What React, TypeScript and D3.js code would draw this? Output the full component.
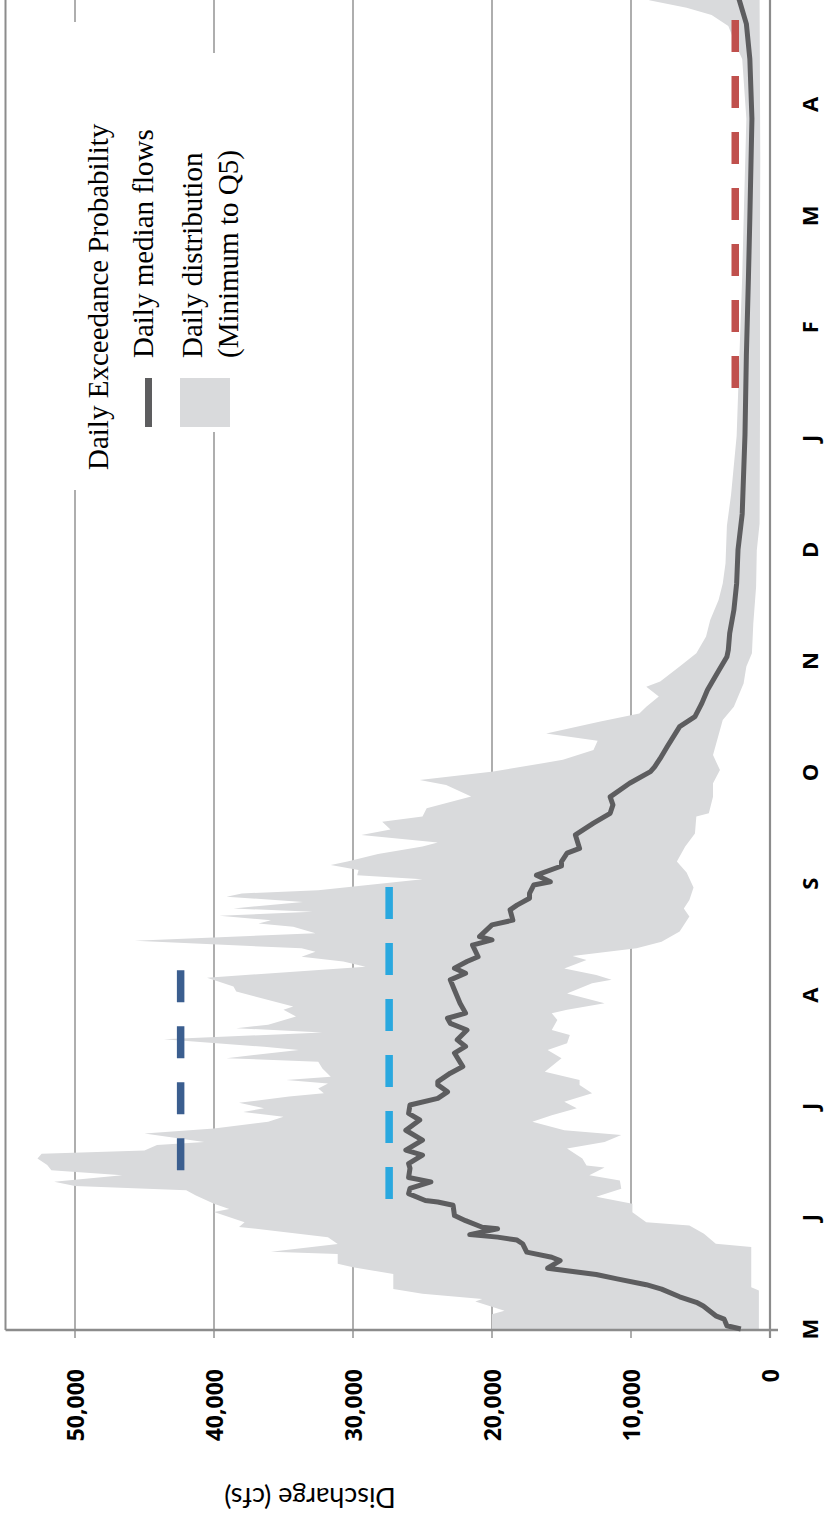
import React from 'react';
import * as d3 from 'd3';

// ---------- data (day index from May 1, discharge cfs) ----------
const monthLabels = ['M', 'J', 'J', 'A', 'S', 'O', 'N', 'D', 'J', 'F', 'M', 'A'];
const yTicks = [0, 10000, 20000, 30000, 40000, 50000];

const q5Upper: [number, number][] = [
  [0, 20000], [4, 20000], [5, 19100], [7.5, 21200], [8.2, 20700], [9.6, 25000], [10.9, 27100],
  [15, 27100], [16.9, 30000], [17.8, 31100], [20.5, 31100], [21.1, 35900], [23.2, 31100],
  [25.1, 31800], [27.9, 38200], [29.2, 37800], [32, 40000], [32.8, 38900], [34.2, 40000],
  [36.5, 41300], [37.9, 42000], [39.1, 50000], [40.2, 51500], [42, 46600], [43.4, 51700],
  [44.8, 52000], [46.6, 52700], [47.9, 52400], [48.8, 45000], [50.3, 44100], [51.1, 40700],
  [53.4, 45000], [54.8, 40000], [56.6, 36100], [58, 35000], [59.3, 37900], [60.3, 36400],
  [61.8, 38200], [63.5, 34600], [64.4, 32100], [65.7, 32500], [67.1, 31800], [68, 34800],
  [68.9, 31600], [71.2, 32200], [73, 32500], [74, 39100], [76.2, 33900], [77.1, 36400],
  [79.2, 43600], [81, 32200], [82.2, 38400], [83.1, 36100], [85.4, 34100], [87.2, 35000],
  [88.1, 34300], [92.2, 38400], [93.6, 38600], [96, 40500], [99, 29100], [100.4, 30700],
  [101.7, 33700], [103.1, 32700], [104, 33700], [106.1, 45700], [108.1, 32700], [109.9, 34300],
  [110.8, 36800], [111.7, 35900], [112.9, 39600], [114, 32900], [114.9, 38600], [116.7, 33600],
  [118.1, 39100], [119, 38000], [119.9, 32500], [122.9, 25000], [124, 29700], [125.4, 29600],
  [126.8, 31600], [127.7, 30400], [129.8, 28200], [131.8, 25000], [132.9, 23900], [135, 29400],
  [136.5, 27300], [138.6, 27900], [140, 25000], [142.3, 24700], [145.5, 21500], [148.6, 23300],
  [150, 25200], [152.3, 19900], [155.5, 14900], [158.2, 12700], [160.7, 12400], [162.7, 16100],
  [166, 12200], [168.2, 9400], [170, 8900], [172.8, 8000], [175.5, 8900], [176.9, 7900],
  [181, 6500], [184.6, 5300], [189.2, 4600], [193.7, 4300], [199.2, 3700], [203.7, 3400],
  [209.2, 3200], [219.5, 3100], [228, 2800], [244, 2400], [266, 2200], [287.5, 2000],
  [302.6, 1900], [330.7, 1700], [347, 2000], [351.2, 2500], [356, 3000], [359, 4200],
  [361, 6000], [363, 8600], [365, 11000],
];

const minLower: [number, number][] = [
  [0, 800], [10.5, 800], [11.4, 1350], [22.4, 1350], [23.3, 3900], [26, 4750], [28.3, 5800],
  [29.2, 8900], [31.9, 9900], [34.2, 9900], [36.1, 12500], [38.3, 10700], [40.6, 10800],
  [42, 13000], [44.1, 11900], [44.7, 13200], [46.6, 13500], [49.3, 14600], [51.1, 11900],
  [53, 10700], [54.3, 14800], [56.6, 17100], [58.4, 15700], [60.3, 13900], [62.1, 14800],
  [64.4, 12800], [66.7, 13700], [68, 13700], [70.3, 16200], [74, 15000], [76.2, 16000],
  [78.1, 14600], [80.3, 14400], [81.7, 15700], [84.4, 15300], [86.3, 15700], [87.2, 14600],
  [89, 11900], [91.7, 14600], [94.5, 12800], [95.4, 11400], [96.7, 12500], [98.5, 14800],
  [100.8, 13200], [101.9, 14200], [104, 9600], [105.8, 7800], [108.6, 6500], [112.7, 5800],
  [114.9, 6200], [117.2, 5800], [120.6, 5500], [124.7, 6000], [127.7, 6700], [131.8, 6100],
  [135.4, 5400], [140, 5300], [140.9, 4400], [145.4, 4100], [149.1, 4100], [152.7, 3600],
  [156.8, 4100], [166.4, 3400], [170, 2600], [176.4, 1900], [181, 1700], [184.6, 1300],
  [192.8, 1200], [202.8, 1000], [212.8, 950], [220, 750], [250, 720], [300, 720], [320, 700],
  [365, 750],
];

const medianFlow: [number, number][] = [
  [0, 2100], [0.9, 3100], [2.7, 3300], [3.6, 3900], [6.3, 4800], [7.3, 5300], [8.8, 6500],
  [10.9, 7800], [12.1, 8900], [13.7, 11000], [14.9, 12500], [16.6, 16000], [18.7, 15100],
  [19.6, 15700], [21, 17500], [23.3, 17800], [24.3, 18200], [25.1, 19600], [25.8, 21600],
  [27.4, 19600], [27.8, 20700], [29.6, 21900], [31, 22700], [33.8, 22800], [34.7, 23900],
  [35.1, 24800], [37, 26000], [38.4, 25900], [40.2, 24400], [41.4, 26000], [43.9, 25900],
  [45.2, 26000], [47.5, 25000], [48.9, 26200], [51.6, 25000], [54.3, 26200], [57.1, 25200],
  [58.9, 26000], [61.2, 25900], [63, 23900], [64.8, 23200], [66.7, 23900], [67.6, 23900],
  [69.9, 23000], [71.7, 22100], [75.4, 22700], [77.2, 21900], [79, 22500], [81.7, 21800],
  [83.5, 23000], [84.9, 23200], [86.3, 21900], [89, 22300], [92.6, 22700], [95.4, 23000],
  [97.2, 21900], [98.6, 22700], [100.4, 21800], [101.7, 21000], [104.9, 21400], [106.3, 20000],
  [107.2, 20900], [110.4, 20000], [111.7, 18500], [114.5, 18700], [115.8, 18200], [117.7, 17300],
  [119, 17300], [121.3, 17000], [122.2, 15800], [124, 16800], [126.5, 15000], [127.7, 15000],
  [130, 14600], [131.3, 13700], [135, 14000], [138.2, 12700], [140.9, 11500], [143.2, 11300],
  [145.4, 11500], [149.1, 10100], [152.3, 8600], [153.6, 8300], [155.9, 7900], [159.1, 7400],
  [164.6, 6500], [167.3, 5400], [171, 4900], [174.6, 4500], [179.2, 3800], [183.7, 3100],
  [185.5, 3000], [190.1, 2900], [196.4, 2600], [203.7, 2400], [213, 2300], [222.7, 2000],
  [244.3, 1800], [266, 1700], [287.5, 1550], [303.7, 1450], [330.7, 1300], [347, 1450],
  [356.6, 1700], [363, 2200], [365, 2400],
];

// reference (dashed) lines: value and day span
const darkBlueRef = { value: 42400, from: 43.4, to: 98 };
const lightBlueRef = { value: 27400, from: 35.5, to: 120.8 };
const redRef = { value: 2500, from: 257.1, to: 365 };

const legendTitle = 'Daily Exceedance Probability';
const legendMedian = 'Daily median flows';
const legendBand = ['Daily distribution', '(Minimum to Q5)'];
const yTitle = 'Discharge (cfs)';

// ---------- layout (drawn landscape, then rotated) ----------
const W = 1522;
const H = 825;
const X0 = 193;
const PX_DAY = 3.66;
const GRID = '#8c8c8c';
const BAND = '#d9dadc';
const MEDIAN = '#5d5d5f';
const DARK_BLUE = '#3b5e8f';
const LIGHT_BLUE = '#2aa8df';
const RED = '#c0504d';

export default function App() {
  const x = d3.scaleLinear().domain([0, 365]).range([X0, X0 + 365 * PX_DAY]);
  const y = d3.scaleLinear().domain([0, 55000]).range([770, 5.5]);
  const lineGen = d3
    .line<[number, number]>()
    .x((d) => x(d[0]))
    .y((d) => y(d[1]));
  const bandPath = lineGen([...q5Upper, ...[...minLower].reverse()]) + 'Z';
  const medianPath = lineGen(medianFlow) || '';
  const refs = [
    { r: darkBlueRef, c: DARK_BLUE },
    { r: lightBlueRef, c: LIGHT_BLUE },
    { r: redRef, c: RED },
  ];
  const monthDays = monthLabels.map((_, i) => (i * 365) / 12);

  return (
    <svg
      width={825}
      height={1522}
      style={{ position: 'absolute', left: 0, top: 0, background: '#fff' }}
    >
      <g transform={`translate(0,${W}) rotate(-90)`}>
        <rect x={0} y={0} width={W} height={H} fill="#fff" />
        {/* gridlines */}
        {yTicks.slice(1).map((t) => (
          <line key={t} x1={184} x2={W} y1={y(t)} y2={y(t)} stroke={GRID} strokeWidth={1.4} />
        ))}
        {/* band */}
        <path d={bandPath} fill={BAND} stroke="none" />
        {/* frame */}
        <line x1={X0 - 1} x2={W} y1={y(55000)} y2={y(55000)} stroke={GRID} strokeWidth={2} />
        <line x1={184} x2={W} y1={y(0)} y2={y(0)} stroke={GRID} strokeWidth={2.2} />
        <line x1={X0 - 1} x2={X0 - 1} y1={y(55000)} y2={778} stroke={GRID} strokeWidth={2.4} />
        {/* reference lines */}
        {refs.map(({ r, c }) => (
          <line
            key={c}
            x1={x(r.from)}
            x2={x(r.to)}
            y1={y(r.value)}
            y2={y(r.value)}
            stroke={c}
            strokeWidth={7.5}
            strokeDasharray="32 24"
          />
        ))}
        {/* median */}
        <path d={medianPath} fill="none" stroke={MEDIAN} strokeWidth={5} strokeLinejoin="round" />
        {/* y tick labels */}
        {yTicks.map((t) => (
          <text
            key={t}
            x={153}
            y={y(t)}
            textAnchor="end"
            dominantBaseline="central"
            fontFamily="'Open Sans', Lato, sans-serif"
            fontWeight={700}
            fontSize={23}
            fill="#000"
          >
            {d3.format(',')(t)}
          </text>
        ))}
        {/* month labels */}
        {monthLabels.map((m, i) => (
          <text
            key={i}
            x={x(monthDays[i])}
            y={809}
            textAnchor="middle"
            dominantBaseline="central"
            fontFamily="'Open Sans', Lato, sans-serif"
            fontWeight={700}
            fontSize={22}
            fill="#000"
          >
            {m}
          </text>
        ))}
        {/* y title */}
        <text
          transform={`translate(24,310) rotate(-90)`}
          textAnchor="middle"
          dominantBaseline="central"
          fontFamily="Lato, 'Open Sans', sans-serif"
          fontSize={27}
          fill="#000"
        >
          {yTitle}
        </text>
        {/* legend */}
        <rect x={1032} y={58} width={468} height={62} fill="#fff" />
        <rect x={1090} y={122} width={379} height={128} fill="#fff" />
        <g fontFamily="'Liberation Serif', 'Times New Roman', serif" fontSize={29} fill="#000">
          <text x={1052} y={108}>{legendTitle}</text>
          <line x1={1095} x2={1144} y1={148.5} y2={148.5} stroke={MEDIAN} strokeWidth={7} />
          <text x={1164} y={153}>{legendMedian}</text>
          <rect x={1095} y={180} width={49} height={50} fill={BAND} />
          <text x={1164} y={202}>{legendBand[0]}</text>
          <text x={1164} y={238}>{legendBand[1]}</text>
        </g>
      </g>
    </svg>
  );
}
